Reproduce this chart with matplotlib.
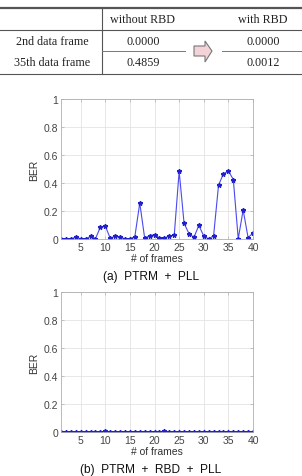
import matplotlib
matplotlib.use("Agg")
import matplotlib.pyplot as plt
from matplotlib.patches import Polygon
from matplotlib.lines import Line2D

# ---- data ----
col_headers = ["without RBD", "with RBD"]
row_labels = ["2nd data frame", "35th data frame"]
without_rbd = ["0.0000", "0.4859"]
with_rbd = ["0.0000", "0.0012"]

frames = list(range(1, 41))
ber_a = [0, 0, 0, 0.014, 0, 0, 0.019, 0.002, 0.085, 0.093,
         0.005, 0.021, 0.012, 0.002, 0.002, 0.017, 0.257, 0.005, 0.024, 0.031,
         0.005, 0.005, 0.024, 0.026, 0.485, 0.112, 0.038, 0.012, 0.097, 0.021,
         0, 0.024, 0.385, 0.466, 0.4859, 0.425, 0.002, 0.207, 0.010, 0.043]
ber_b = [0, 0, 0, 0, 0, 0, 0, 0, 0, 0.004,
         0, 0, 0, 0, 0, 0, 0, 0, 0, 0,
         0, 0.008, 0, 0, 0, 0, 0, 0, 0, 0,
         0, 0, 0, 0, 0.0012, 0, 0, 0, 0, 0]
yticks = [0, 0.2, 0.4, 0.6, 0.8, 1]
ytick_labels = ["0", "0.2", "0.4", "0.6", "0.8", "1"]
xticks = [5, 10, 15, 20, 25, 30, 35, 40]
titles = ["(a)  PTRM  +  PLL", "(b)  PTRM  +  RBD  +  PLL"]

W, H = 302, 477
fig = plt.figure(figsize=(W / 100, H / 100), dpi=100)
fig.patch.set_facecolor("white")

# ---- table overlay (pixel coords) ----
ov = fig.add_axes([0, 0, 1, 1])
ov.set_xlim(0, W)
ov.set_ylim(H, 0)
ov.axis("off")
serif = "Liberation Serif"
ov.add_line(Line2D([0, W], [9, 9], color="#555555", lw=1.6))
ov.add_line(Line2D([0, W], [30.5, 30.5], color="#555555", lw=0.8))
ov.add_line(Line2D([0, W], [75, 75], color="#555555", lw=0.8))
ov.add_line(Line2D([101.5, 101.5], [9, 75], color="#555555", lw=0.8))
ov.add_line(Line2D([102, 185], [52, 52], color="#777777", lw=0.7))
ov.add_line(Line2D([222, W], [52, 52], color="#777777", lw=0.7))
ov.text(143, 20, col_headers[0], family=serif, fontsize=8.7, ha="center", va="center", color="#222222")
ov.text(263, 20, col_headers[1], family=serif, fontsize=8.7, ha="center", va="center", color="#222222")
for i, (r, a, b) in enumerate(zip(row_labels, without_rbd, with_rbd)):
    y = 42 + i * 21
    ov.text(52, y, r, family=serif, fontsize=8.7, ha="center", va="center", color="#222222")
    ov.text(143, y, a, family=serif, fontsize=8.7, ha="center", va="center", color="#222222")
    ov.text(263, y, b, family=serif, fontsize=8.7, ha="center", va="center", color="#222222")
arrow = Polygon([(194, 47), (205, 47), (205, 42), (212, 52), (205, 63), (205, 57), (194, 57)],
                closed=True, facecolor="#f3d3d8", edgecolor="#777777", lw=0.8)
ov.add_patch(arrow)

# ---- plots ----
sans = "Liberation Sans"
for k, (data, bottom_px, title_y) in enumerate([(ber_a, 240, 277), (ber_b, 433, 470)]):
    ax = fig.add_axes([61 / W, (H - bottom_px) / H, 192 / W, 140 / H])
    ax.plot(frames, data, color="#4a4af0", lw=0.8, marker="*", markersize=3.3,
            markerfacecolor="#2020cc", markeredgecolor="#2020cc")
    ax.set_xlim(1, 40)
    ax.set_ylim(0, 1)
    ax.set_xticks(xticks)
    ax.set_yticks(yticks)
    ax.set_yticklabels(ytick_labels)
    ax.grid(True, color="#e3e3e3", lw=0.6)
    ax.set_axisbelow(True)
    for s in ax.spines.values():
        s.set_color("#b0b0b0")
        s.set_linewidth(0.6)
    ax.tick_params(axis="both", labelsize=7.5, colors="#b0b0b0", labelcolor="#444444",
                   length=2, width=0.5, direction="in", pad=2)
    ax.tick_params(top=True, right=True)
    ax.set_ylabel("BER", family=sans, fontsize=7.5, color="#333333", labelpad=3)
    ax.set_xlabel("# of frames", family=sans, fontsize=7.5, color="#333333", labelpad=1)
    for lab in ax.get_xticklabels() + ax.get_yticklabels():
        lab.set_family(sans)
    fig.text(0.5, 1 - title_y / H, titles[k], family=sans, fontsize=8.6, ha="center", va="center", color="#111111")

fig.savefig("out.png", dpi=100)
